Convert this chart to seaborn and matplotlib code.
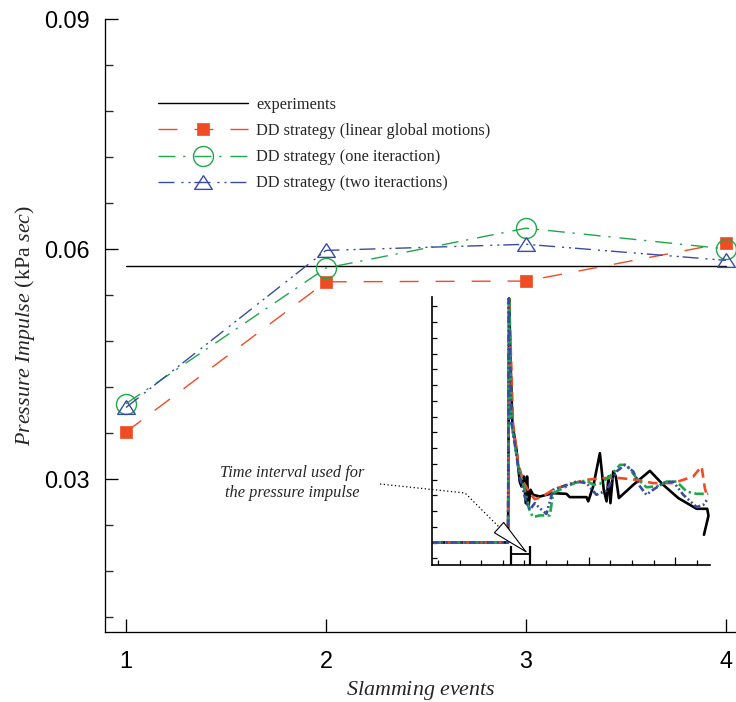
import numpy as np
import pandas as pd
import matplotlib
matplotlib.use("Agg")
import matplotlib.pyplot as plt
import seaborn as sns
from matplotlib.ticker import FixedLocator, MultipleLocator
from matplotlib.lines import Line2D

# ---------------- main data ----------------
events = [1, 2, 3, 4]
experiments = [0.0577, 0.0577, 0.0577, 0.0577]
linear_global = [0.0361, 0.0557, 0.0558, 0.0608]
one_iteraction = [0.0398, 0.0575, 0.0627, 0.0600]
two_iteractions = [0.0393, 0.0598, 0.0606, 0.0585]

series_labels = ["experiments",
                 "DD strategy (linear global motions)",
                 "DD strategy (one iteraction)",
                 "DD strategy (two iteractions)"]
x_ticks = [1, 2, 3, 4]
x_tick_labels = ["1", "2", "3", "4"]
y_ticks = [0.03, 0.06, 0.09]
y_tick_labels = ["0.03", "0.06", "0.09"]

# ---------------- inset data (pressure time histories, arbitrary units) ----------------
inset_t_exp = [-0.28, 3.25, 3.30, 3.36, 3.45, 3.64, 3.79, 3.87, 3.98, 4.07, 4.13, 4.20, 4.29,
               4.41, 4.72, 5.34, 5.96, 6.11, 6.89, 6.97, 7.20, 7.51, 7.69, 7.82, 7.91, 8.00,
               8.13, 8.25, 8.39, 9.06, 9.83, 10.45, 11.15, 12.00, 12.49, 12.55, 12.34]
inset_p_exp = [1.01, 1.01, 16.5, 12.81, 8.58, 6.89, 4.88, 4.57, 5.20, 3.51, 5.20, 3.30, 4.36,
               4.04, 3.93, 4.14, 4.10, 3.89, 3.89, 3.62, 4.57, 6.68, 4.36, 3.62, 5.20, 3.51,
               5.52, 5.20, 3.83, 4.67, 5.56, 4.67, 3.83, 3.15, 3.15, 2.71, 1.50]

inset_t_lin = [-0.28, 3.25, 3.30, 3.48, 3.72, 3.95, 4.26, 4.49, 4.80, 5.34, 5.96, 6.89, 7.66,
               8.44, 9.21, 9.98, 10.91, 11.84, 12.23, 12.38, 12.49]
inset_p_lin = [1.01, 1.01, 16.5, 8.58, 6.05, 4.88, 4.14, 3.76, 3.89, 4.36, 4.67, 4.99, 5.10,
               5.10, 4.99, 4.78, 4.78, 5.20, 5.84, 4.46, 3.93]

inset_t_one = [-0.28, 3.25, 3.30, 3.41, 3.72, 4.02, 4.26, 4.41, 4.72, 5.19, 5.34, 5.96, 6.42,
               6.89, 7.20, 7.51, 7.97, 8.44, 8.75, 9.21, 9.67, 10.14, 10.60, 11.07, 11.53,
               12.00, 12.54]
inset_p_one = [1.01, 1.01, 16.5, 8.58, 5.84, 4.36, 2.98, 2.62, 2.73, 2.73, 4.14, 4.57, 4.82,
               4.95, 4.67, 4.74, 5.20, 5.94, 5.94, 5.10, 4.52, 4.57, 4.88, 4.88, 4.25,
               4.10, 4.10]

inset_t_two = [-0.28, 3.25, 3.28, 3.41, 3.79, 4.10, 4.26, 4.49, 4.72, 5.03, 5.34, 5.80, 6.42,
               6.89, 7.35, 7.82, 8.28, 8.67, 9.06, 9.37, 9.67, 9.98, 10.45, 10.91, 11.38,
               12.00, 12.31, 12.54]
inset_p_two = [1.01, 1.01, 16.5, 8.58, 5.20, 3.51, 3.09, 3.51, 3.19, 2.83, 4.36, 4.57, 4.88,
               4.78, 4.04, 4.31, 5.52, 5.94, 5.52, 4.57, 4.04, 4.36, 4.78, 4.88, 4.04,
               3.26, 3.40, 3.83]

# ---------------- style ----------------
sns.set_style("ticks")
plt.rcParams["font.family"] = ["Liberation Sans", "DejaVu Sans"]
plt.rcParams["mathtext.fontset"] = "custom"
plt.rcParams["mathtext.rm"] = "Liberation Serif"
plt.rcParams["mathtext.it"] = "Liberation Serif:italic"

RED = "#EF4B24"
GREEN = "#1FA84A"
BLUE = "#3A4BA2"

fig = plt.figure(figsize=(7.36, 7.02), dpi=100)
ax = fig.add_axes([105 / 736, 1 - 632 / 702, (736 - 105) / 736, (632 - 19) / 702])
ax.set_facecolor("none")

df = pd.DataFrame({"event": events, "exp": experiments, "lin": linear_global,
                   "one": one_iteraction, "two": two_iteractions})

sns.lineplot(data=df, x="event", y="exp", ax=ax, color="black", lw=1.0,
             label=series_labels[0])
sns.lineplot(data=df, x="event", y="lin", ax=ax, color=RED, lw=1.0,
             linestyle=(0, (13.7, 12.2)), marker="s", markersize=9.2,
             markerfacecolor=RED, markeredgecolor=RED, markeredgewidth=0.5,
             label=series_labels[1])
sns.lineplot(data=df, x="event", y="one", ax=ax, color=GREEN, lw=1.0,
             linestyle=(0, (12.2, 5.6, 1.6, 6.5)), marker="o", markersize=14.4,
             markerfacecolor="none", markeredgecolor=GREEN, markeredgewidth=1.0,
             label=series_labels[2])
tri = [(0, 0.78), (-1, -0.78), (1, -0.78), (0, 0.78)]
sns.lineplot(data=df, x="event", y="two", ax=ax, color=BLUE, lw=1.0,
             linestyle=(0, (11.5, 5.0, 1.5, 3.6, 1.5, 2.8)), marker=tri, markersize=12.7,
             markerfacecolor="none", markeredgecolor=BLUE, markeredgewidth=1.0,
             label=series_labels[3])

ax.set_xlim(0.895, 4.05)
ax.set_ylim(0.01, 0.09)
ax.xaxis.set_major_locator(FixedLocator(x_ticks))
ax.set_xticklabels(x_tick_labels)
ax.yaxis.set_major_locator(FixedLocator(y_ticks))
ax.set_yticklabels(y_tick_labels)
ax.yaxis.set_minor_locator(FixedLocator([0.012, 0.018, 0.024, 0.036, 0.042, 0.048, 0.054,
                                         0.066, 0.072, 0.078, 0.084]))
ax.tick_params(axis="both", which="major", direction="in", length=9.4, width=0.95,
               labelsize=16.8, color="black", labelcolor="black")
ax.tick_params(axis="y", which="major", pad=11)
ax.tick_params(axis="x", which="major", pad=13)
ax.tick_params(axis="y", which="minor", direction="in", length=5.8, width=0.95)
for s in ["top", "right"]:
    ax.spines[s].set_visible(False)
for s in ["left", "bottom"]:
    ax.spines[s].set_linewidth(0.95)
    ax.spines[s].set_color("black")

ax.set_xlabel(r"$\mathit{Slamming\ events}$", fontsize=15.8, labelpad=4,
              family="Liberation Serif")
ax.set_ylabel(r"$\mathit{Pressure\ Impulse}$ (kPa $\mathit{sec}$)", fontsize=15.8,
              labelpad=5, family="Liberation Serif")

leg = ax.legend(loc="upper left", bbox_to_anchor=(158 / 736, 1 - 97 / 702),
                bbox_transform=fig.transFigure, frameon=False, borderpad=0,
                borderaxespad=0, handlelength=5.5, handletextpad=0.5,
                labelspacing=0.62, prop={"family": "Liberation Serif", "size": 11.8})

# ---------------- inset ----------------
axins = fig.add_axes([432 / 736, 1 - 565 / 702, (710 - 432) / 736, (565 - 297) / 702])
axins.set_facecolor("none")

d_exp = pd.DataFrame({"t": inset_t_exp, "p": inset_p_exp})
d_lin = pd.DataFrame({"t": inset_t_lin, "p": inset_p_lin})
d_one = pd.DataFrame({"t": inset_t_one, "p": inset_p_one})
d_two = pd.DataFrame({"t": inset_t_two, "p": inset_p_two})

sns.lineplot(data=d_exp, x="t", y="p", ax=axins, sort=False, estimator=None,
             color="black", lw=1.9)
sns.lineplot(data=d_lin, x="t", y="p", ax=axins, sort=False, estimator=None,
             color=RED, lw=1.9, linestyle=(0, (3.6, 2.2)))
sns.lineplot(data=d_one, x="t", y="p", ax=axins, sort=False, estimator=None,
             color=GREEN, lw=1.9, linestyle=(0, (3.6, 1.3, 0.9, 1.3)))
sns.lineplot(data=d_two, x="t", y="p", ax=axins, sort=False, estimator=None,
             color=BLUE, lw=1.9, linestyle=(0, (2.6, 1.0, 0.7, 1.0, 0.7, 1.0)))

axins.set_xlim(-0.28, 12.62)
axins.set_ylim(-0.42, 16.6)
axins.xaxis.set_major_locator(FixedLocator([7, 11]))
axins.xaxis.set_minor_locator(MultipleLocator(1))
axins.yaxis.set_major_locator(MultipleLocator(1))
axins.tick_params(axis="both", which="both", direction="in", labelbottom=False,
                  labelleft=False, width=0.9, color="black")
axins.tick_params(axis="x", which="major", length=6)
axins.tick_params(axis="x", which="minor", length=3.6)
axins.tick_params(axis="y", which="major", length=3.6)
axins.set_xlabel("")
axins.set_ylabel("")
for s in ["top", "right"]:
    axins.spines[s].set_visible(False)
for s in ["left", "bottom"]:
    axins.spines[s].set_linewidth(1.2)
    axins.spines[s].set_color("black")

# time-interval bracket
axins.vlines([3.37, 4.26], -0.42, 0.76, color="black", lw=1.6)
axins.hlines(0.30, 3.37, 4.26, color="black", lw=1.3)

# hollow arrow head
axins.annotate("", xy=(4.18, 0.30), xytext=(2.86, 1.92),
               arrowprops=dict(arrowstyle="-|>,head_length=2.6,head_width=0.5",
                               fc="white", ec="black", lw=0.8, shrinkA=0, shrinkB=0,
                               mutation_scale=10))

# dotted leader line and annotation text
fig.add_artist(Line2D([380 / 736, 465 / 736, 500 / 736],
                      [1 - 484 / 702, 1 - 493 / 702, 1 - 528 / 702],
                      transform=fig.transFigure, color="black", lw=0.9,
                      linestyle=(0, (1, 2))))
fig.text(292 / 736, 1 - 483 / 702, "Time interval used for\nthe pressure impulse",
         ha="center", va="center", family="Liberation Serif", style="italic",
         fontsize=11.8, linespacing=1.3)

fig.savefig("out.png", dpi=100)
